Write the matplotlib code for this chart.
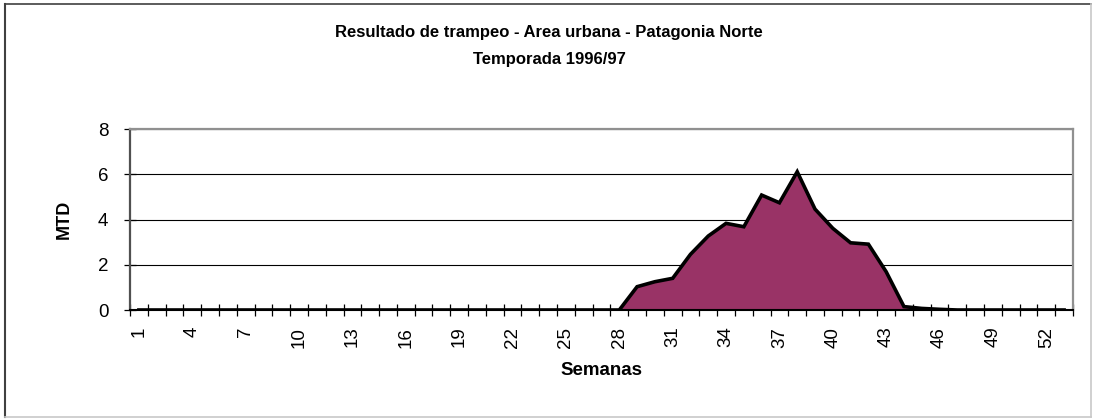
import matplotlib.pyplot as plt
from matplotlib.lines import Line2D

# datos de trampeo por semana (MTD)
semanas = list(range(1, 54))
mtd = [0] * 27 + [0.0, 1.03, 1.25, 1.40, 2.46, 3.27, 3.83, 3.68, 5.08, 4.74,
                  6.11, 4.46, 3.61, 2.97, 2.91, 1.69, 0.15, 0.07, 0.03,
                  0, 0, 0, 0, 0, 0, 0]
etiquetas_x = list(range(1, 54, 3))

titulo = "Resultado de trampeo - Area urbana - Patagonia Norte\nTemporada 1996/97"
color_area = "#993366"

plt.rcParams['font.family'] = ['Liberation Sans', 'DejaVu Sans']

fig = plt.figure(figsize=(10.98, 4.19), dpi=100)
ax = fig.add_axes([130 / 1098, 1 - 310 / 419, 943 / 1098, 181 / 419])

ax.fill_between(semanas, mtd, 0, facecolor=color_area, edgecolor='none', zorder=2)
ax.plot(semanas, mtd, color='black', linewidth=2.6, zorder=3, solid_joinstyle='miter')

ax.set_xlim(0.5, 53.5)
ax.set_ylim(0, 8)
ax.set_yticks([0, 2, 4, 6, 8])
ax.yaxis.grid(True, color='black', linewidth=0.8)
ax.set_axisbelow(True)

# marcas entre categorías, etiquetas cada 3 semanas
ax.set_xticks([s + 0.5 for s in range(0, 54)])
ax.set_xticklabels([])
ax.set_xticks(etiquetas_x, minor=True)
ax.set_xticklabels([str(e) for e in etiquetas_x], minor=True, rotation=90, fontsize=13.5)
ax.tick_params(axis='x', which='major', direction='inout', length=9, width=0.9)
ax.tick_params(axis='x', which='minor', length=0, pad=12)
ax.tick_params(axis='y', direction='inout', length=9, width=0.9, labelsize=13.5, pad=11)

for lado in ['top', 'right']:
    ax.spines[lado].set_color('#909090')
    ax.spines[lado].set_linewidth(1.6)
ax.spines['left'].set_color('#505050')
ax.spines['left'].set_linewidth(1.6)
ax.spines['bottom'].set_linewidth(1.5)

ax.set_ylabel("MTD", fontsize=13, fontweight='bold')
ax.yaxis.set_label_coords(-57 / 943, 0.5)
ax.set_xlabel("Semanas", fontsize=13.5, fontweight='bold')
ax.xaxis.set_label_coords(0.5, -52 / 181)
fig.text(0.5, 1 - 46 / 419, titulo, ha='center', va='center', fontsize=12,
         fontweight='bold', linespacing=1.95)

# borde del gráfico
fig.add_artist(Line2D([5 / 1098, 5 / 1098], [2 / 419, 415 / 419], color='#404040', linewidth=1.5))
fig.add_artist(Line2D([5 / 1098, 1091 / 1098], [415 / 419, 415 / 419], color='#404040', linewidth=1.2))
fig.add_artist(Line2D([1091 / 1098, 1091 / 1098], [2 / 419, 415 / 419], color='#c8c8c8', linewidth=1.2))
fig.add_artist(Line2D([5 / 1098, 1091 / 1098], [2 / 419, 2 / 419], color='#c8c8c8', linewidth=1.2))

fig.savefig("out.png", dpi=100)
